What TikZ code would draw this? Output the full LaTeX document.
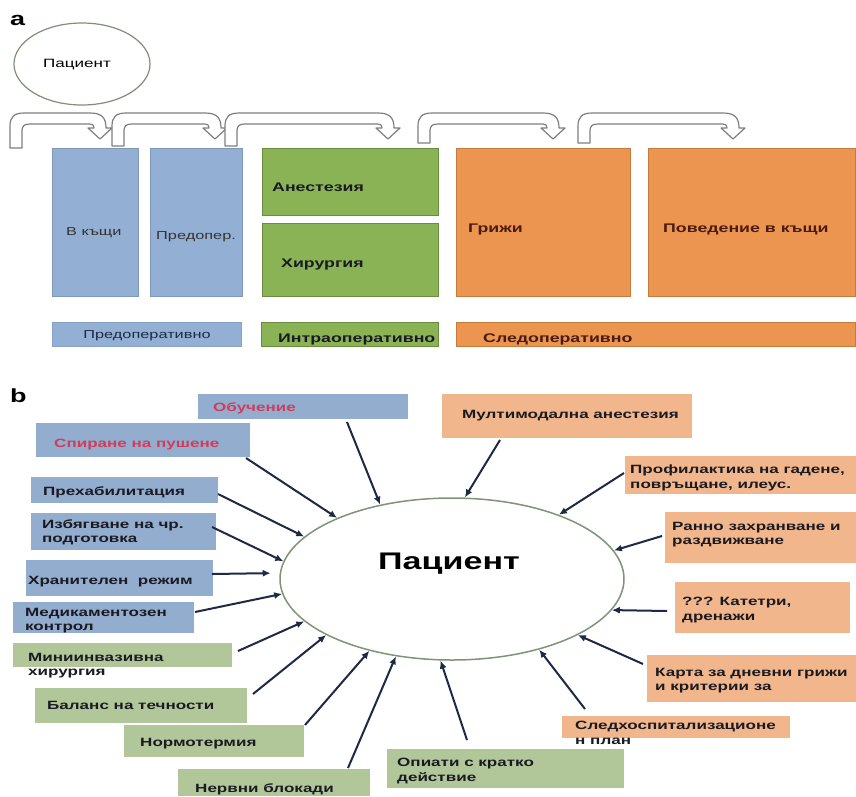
\documentclass[tikz,border=0pt]{standalone}
\usepackage{fontspec}
\setmainfont{Liberation Sans}
\newfontfamily\wf[FakeStretch=1.42]{Liberation Sans}
\usetikzlibrary{arrows.meta,shapes.geometric}
\definecolor{blueA}{HTML}{93AFD3}
\definecolor{blueAd}{HTML}{7E98BC}
\definecolor{greenA}{HTML}{8AB356}
\definecolor{greenAd}{HTML}{6A8C3E}
\definecolor{orangeA}{HTML}{EC9550}
\definecolor{orangeAd}{HTML}{C67A3C}
\definecolor{blueB}{HTML}{93ADCF}
\definecolor{greenB}{HTML}{B2C799}
\definecolor{orangeB}{HTML}{F1B68C}
\definecolor{arr}{HTML}{1E2A45}
\definecolor{redt}{HTML}{D23C5A}
\definecolor{brownt}{HTML}{4B1A10}
\definecolor{tdark}{HTML}{1A1A22}
\definecolor{ellc}{HTML}{7E9477}
\definecolor{hollowc}{HTML}{7F7F7F}
\newcommand\uturnarrow[3]{%
 \draw[hollow] (#1,#3) -- (#1,126) .. controls (#1,117) and ({#1+4},113) .. ({#1+14},113) -- ({#2-10},113) .. controls ({#2+2},113) and ({#2+6},118) .. ({#2+6},128) -- ({#2+12},128) -- (#2,139) -- ({#2-12},128) -- ({#2-6},128) .. controls ({#2-6},125.5) and ({#2-7},124) .. ({#2-10},124) -- ({#1+20},124) .. controls ({#1+14},124) and ({#1+12},126) .. ({#1+12},131) -- ({#1+12},#3) -- cycle;}
\tikzset{
 hollow/.style={draw=hollowc, fill=white, line width=1.2pt, line join=round},
 boxA/.style={rectangle, inner sep=0pt, line width=0.8pt},
 boxB/.style={rectangle, inner sep=0pt},
 tb/.style={inner sep=0pt, font=\wf\bfseries\fontsize{12}{14.5}\selectfont, text=tdark, align=left},
 ta/.style={inner sep=0pt, font=\wf\bfseries\fontsize{12.5}{15}\selectfont, text=tdark},
 tr/.style={inner sep=0pt, font=\wf\fontsize{11.5}{14}\selectfont, text=black!80},
 lbl/.style={inner sep=0pt, font=\wf\bfseries\fontsize{19}{22}\selectfont},
 inarrow/.style={draw=arr, line width=2pt, -{Latex[length=8pt,width=7pt]}},
}
\begin{document}
\begin{tikzpicture}[x=1pt,y=-1pt]
\useasboundingbox[fill=white] (0,0) rectangle (856,796);
% ---------------- panel a ----------------
\node[lbl, anchor=base west] (la) at (10,25) {a};
\node[ellipse, draw=ellc!80!gray, line width=1.2pt, minimum width=136pt, minimum height=82pt, inner sep=0pt] (pa) at (82,64) {};
\node[inner sep=0pt, font=\wf\fontsize{12}{14}\selectfont, anchor=base] (pat) at (77,67) {Пациент};
\uturnarrow{10}{100}{148}
\uturnarrow{112}{215}{146}
\uturnarrow{225}{388}{146}
\uturnarrow{418}{553}{143}
\uturnarrow{578}{733}{143}
\node[boxA, fill=blueA, draw=blueAd, minimum width=86pt, minimum height=148pt] (k1) at (95,222) {};
\node[boxA, fill=blueA, draw=blueAd, minimum width=92pt, minimum height=148pt] (k2) at (196,222) {};
\node[boxA, fill=greenA, draw=greenAd, minimum width=176pt, minimum height=67pt] (k3) at (350,181.5) {};
\node[boxA, fill=greenA, draw=greenAd, minimum width=176pt, minimum height=73pt] (k4) at (350,259.5) {};
\node[boxA, fill=orangeA, draw=orangeAd, minimum width=174pt, minimum height=148pt] (k5) at (543,222) {};
\node[boxA, fill=orangeA, draw=orangeAd, minimum width=207pt, minimum height=148pt] (k6) at (751.5,222) {};
\node[tr, anchor=base west] (t1) at (66,235) {В къщи};
\node[tr, anchor=base west] (t2) at (156,239) {Предопер.};
\node[ta, anchor=base west] (t3) at (272,191.5) {Анестезия};
\node[ta, anchor=base west] (t4) at (281,267.5) {Хирургия};
\node[ta, anchor=base west, text=brownt] (t5) at (468,232.5) {Грижи};
\node[ta, anchor=base west, text=brownt] (t6) at (663,232.5) {Поведение в къщи};
\node[boxA, fill=blueA, draw=blueAd!60!blueA, minimum width=189pt, minimum height=24pt] (b1) at (146.5,334) {};
\node[boxA, fill=greenA, draw=greenAd, minimum width=177pt, minimum height=24pt] (b2) at (349.5,334) {};
\node[boxA, fill=orangeA, draw=orangeAd, minimum width=399pt, minimum height=24pt] (b3) at (656,334) {};
\node[tr, anchor=base, text=arr] (bt1) at (147,338) {Предоперативно};
\node[ta, anchor=base west] (bt2) at (278,342.5) {Интраоперативно};
\node[ta, anchor=base west, text=brownt] (bt3) at (483,342.5) {Следоперативно};
% ---------------- panel b ----------------
\node[lbl, anchor=base west] (lb) at (10,402) {b};
\node[ellipse, draw=ellc, line width=1.5pt, minimum width=344pt, minimum height=162pt, inner sep=0pt] (P) at (452,579) {};
\node[inner sep=0pt, font=\wf\bfseries\fontsize{24}{28}\selectfont, anchor=base, text=black] (Pt) at (449,569) {Пациент};
% left boxes
\node[boxB, fill=blueB, minimum width=210pt, minimum height=25pt] (n1) at (303,406.5) {};
\node[boxB, fill=blueB, minimum width=214pt, minimum height=34pt] (n2) at (143,440) {};
\node[boxB, fill=blueB, minimum width=187pt, minimum height=26pt] (n3) at (124.5,490) {};
\node[boxB, fill=blueB, minimum width=185pt, minimum height=37pt] (n4) at (123.5,531.5) {};
\node[boxB, fill=blueB, minimum width=187pt, minimum height=36pt] (n5) at (119.5,578) {};
\node[boxB, fill=blueB, minimum width=181pt, minimum height=31pt] (n6) at (103.5,617.5) {};
\node[boxB, fill=greenB, minimum width=219pt, minimum height=24pt] (n7) at (122.5,655) {};
\node[boxB, fill=greenB, minimum width=212pt, minimum height=35pt] (n8) at (141,705.5) {};
\node[boxB, fill=greenB, minimum width=180pt, minimum height=32pt] (n9) at (214,741) {};
\node[boxB, fill=greenB, minimum width=192pt, minimum height=27pt] (n10) at (274,782.5) {};
\node[boxB, fill=greenB, minimum width=237pt, minimum height=39pt] (n11) at (505.5,768.5) {};
% right boxes
\node[boxB, fill=orangeB, minimum width=250pt, minimum height=44pt] (n12) at (567,416) {};
\node[boxB, fill=orangeB, minimum width=231pt, minimum height=38pt] (n13) at (740.5,475) {};
\node[boxB, fill=orangeB, minimum width=191pt, minimum height=51pt] (n14) at (760.5,537.5) {};
\node[boxB, fill=orangeB, minimum width=175pt, minimum height=51pt] (n15) at (762.5,607.5) {};
\node[boxB, fill=orangeB, minimum width=209pt, minimum height=47pt] (n16) at (751.5,678.5) {};
\node[boxB, fill=orangeB, minimum width=228pt, minimum height=22pt] (n17) at (676,727) {};
% texts
\node[tb, anchor=base west, text=redt] (x1) at (213,411) {Обучение};
\node[tb, anchor=base west, text=redt] (x2) at (54,447) {Спиране на пушене};
\node[tb, anchor=base west] (x3) at (43,495) {Прехабилитация};
\node[tb, anchor=north west] (x4) at (42,519) {Избягване на чр.\\подготовка};
\node[tb, anchor=base west] (x5) at (28,584) {Хранителен\ \ режим};
\node[tb, anchor=north west] (x6) at (25,608) {Медикаментозен\\контрол};
\node[tb, anchor=north west] (x7) at (28,653) {Миниинвазивна\\хирургия};
\node[tb, anchor=base west] (x8) at (47,709) {Баланс на течности};
\node[tb, anchor=base west] (x9) at (140,746) {Нормотермия};
\node[tb, anchor=base west] (x10) at (195,792) {Нервни блокади};
\node[tb, anchor=north west] (x11) at (397,758) {Опиати с кратко\\действие};
\node[tb, anchor=base west] (x12) at (462,418) {Мултимодална анестезия};
\node[tb, anchor=north west] (x13) at (630,465) {Профилактика на гадене,\\повръщане, илеус.};
\node[tb, anchor=north west] (x14) at (672,522) {Ранно захранване и\\раздвижване};
\node[tb, anchor=north west] (x15) at (682,597) {??? Катетри,\\дренажи};
\node[tb, anchor=north west] (x16) at (655,668) {Карта за дневни грижи\\и критерии за};
\node[tb, anchor=north west] (x17) at (575,721) {Следхоспитализационе\\н план};
% arrow starts
\coordinate (sa) at (347,422);
\coordinate (sb) at (246,458);
\coordinate (sc) at (218,494);
\coordinate (sd) at (212,527);
\coordinate (se) at (212,574);
\coordinate (sf) at (195,612);
\coordinate (sg) at (238,651);
\coordinate (sh) at (253,694);
\coordinate (si) at (305,725);
\coordinate (sj) at (348,768);
\coordinate (sk) at (467,740);
\coordinate (sl) at (585,709);
\coordinate (sm) at (643,664);
\coordinate (sn) at (667,611);
\coordinate (so) at (662,536);
\coordinate (sp) at (624,473);
\coordinate (sq) at (500,440);
\draw[inarrow] (sa) -- (P.134.6);
\draw[inarrow] (sb) -- (P.152.7);
\draw[inarrow] (sc) -- (P.164.9);
\draw[inarrow] (sd) -- (P.174.4);
\draw[inarrow, shorten >=9pt] (se) -- (P.178.4);
\draw[inarrow] (sf) -- (P.185.6);
\draw[inarrow] (sg) -- (P.196.5);
\draw[inarrow] (sh) -- (P.204);
\draw[inarrow] (si) -- (P.221.3);
\draw[inarrow] (sj) -- (P.234.6);
\draw[inarrow] (sk) -- (P.262.3);
\draw[inarrow] (sl) -- (P.321.8);
\draw[inarrow] (sm) -- (P.336.7);
\draw[inarrow] (sn) -- (P.349.1);
\draw[inarrow] (so) -- (P.10.6);
\draw[inarrow] (sp) -- (P.31.8);
\draw[inarrow] (sq) -- (P.81.2);
\end{tikzpicture}
\end{document}
